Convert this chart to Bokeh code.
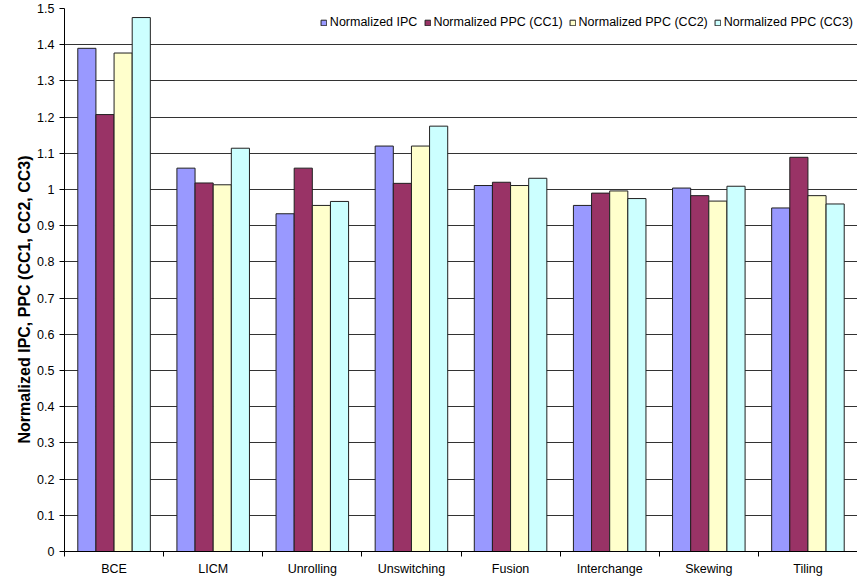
from bokeh.plotting import figure
from bokeh.models import Range1d, FixedTicker, Legend, LegendItem, Title, ColumnDataSource
from bokeh.transform import dodge
from bokeh.embed import file_html
from bokeh.resources import INLINE

categories = ["BCE", "LICM", "Unrolling", "Unswitching", "Fusion", "Interchange", "Skewing", "Tiling"]
ipc = [1.390, 1.059, 0.933, 1.120, 1.011, 0.956, 1.004, 0.949]
ppc_cc1 = [1.207, 1.018, 1.059, 1.017, 1.020, 0.990, 0.983, 1.089]
ppc_cc2 = [1.377, 1.013, 0.956, 1.120, 1.011, 0.996, 0.968, 0.983]
ppc_cc3 = [1.475, 1.114, 0.967, 1.175, 1.031, 0.975, 1.009, 0.960]
series_names = ["Normalized IPC", "Normalized PPC (CC1)", "Normalized PPC (CC2)", "Normalized PPC (CC3)"]
series_colors = ["#9999FF", "#993366", "#FFFFCC", "#CCFFFF"]
y_ticks = [0, 0.1, 0.2, 0.3, 0.4, 0.5, 0.6, 0.7, 0.8, 0.9, 1.0, 1.1, 1.2, 1.3, 1.4, 1.5]
y_tick_labels = ["0", "0.1", "0.2", "0.3", "0.4", "0.5", "0.6", "0.7", "0.8", "0.9",
                 "1", "1.1", "1.2", "1.3", "1.4", "1.5"]
y_label = "Normalized IPC, PPC (CC1, CC2, CC3)"

FONT = "Liberation Sans"
n = len(categories)
centers = [i + 0.5 for i in range(n)]
bounds = [i for i in range(n + 1)]

source = ColumnDataSource(dict(x=centers, ipc=ipc, cc1=ppc_cc1, cc2=ppc_cc2, cc3=ppc_cc3))

p = figure(width=857, height=578, output_backend="svg", toolbar_location=None,
           x_range=Range1d(0, n), y_range=Range1d(0, 1.5),
           min_border_left=64, min_border_right=0, min_border_top=8, min_border_bottom=23)
p.outline_line_color = None
p.background_fill_color = "white"
p.border_fill_color = "white"

w = 0.183
offsets = [-1.5 * w, -0.5 * w, 0.5 * w, 1.5 * w]
cols = ["ipc", "cc1", "cc2", "cc3"]
renderers = []
for col, off, color in zip(cols, offsets, series_colors):
    r = p.vbar(x=dodge("x", off, range=p.x_range), top=col, width=w, bottom=0,
               source=source, fill_color=color, line_color="#202020", line_width=1)
    renderers.append(r)

# grid
p.xgrid.grid_line_color = None
p.ygrid.ticker = FixedTicker(ticks=y_ticks)
p.ygrid.grid_line_color = "#333333"
p.ygrid.grid_line_width = 1
p.ygrid.level = "underlay"

# y axis
ya = p.yaxis[0]
ya.ticker = FixedTicker(ticks=y_ticks)
ya.major_label_overrides = dict(zip(y_ticks, y_tick_labels))
ya.major_tick_out = 5
ya.major_tick_in = 0
ya.minor_tick_line_color = None
ya.major_label_standoff = 5
ya.axis_line_color = "black"
ya.major_tick_line_color = "black"
ya.major_label_text_font = FONT
ya.major_label_text_font_size = "12.5px"
ya.major_label_text_color = "black"

# x axis
xa = p.xaxis[0]
xa.ticker = FixedTicker(ticks=centers, minor_ticks=bounds)
xa.major_label_overrides = dict(zip(centers, categories))
xa.major_tick_line_color = None
xa.minor_tick_out = 5
xa.minor_tick_in = 0
xa.minor_tick_line_color = "black"
xa.axis_line_color = "black"
xa.major_label_standoff = 4
xa.major_label_text_font = FONT
xa.major_label_text_font_size = "12.5px"
xa.major_label_text_color = "black"

# y label as title on the left
t = Title(text=y_label, align="left", offset=108, text_font=FONT,
          text_font_size="16px", text_font_style="bold", text_color="black", standoff=4)
p.add_layout(t, "left")

legend = Legend(items=[LegendItem(label=nm, renderers=[r]) for nm, r in zip(series_names, renderers)],
                orientation="horizontal", location="top_right", margin=4, padding=2,
                spacing=6, label_standoff=3, glyph_width=7, glyph_height=7,
                label_height=20, label_text_font=FONT, label_text_font_size="12.5px",
                label_text_color="black", border_line_color=None,
                background_fill_color="white", background_fill_alpha=1)
p.add_layout(legend)

open("out.html", "w").write(file_html(p, INLINE))
